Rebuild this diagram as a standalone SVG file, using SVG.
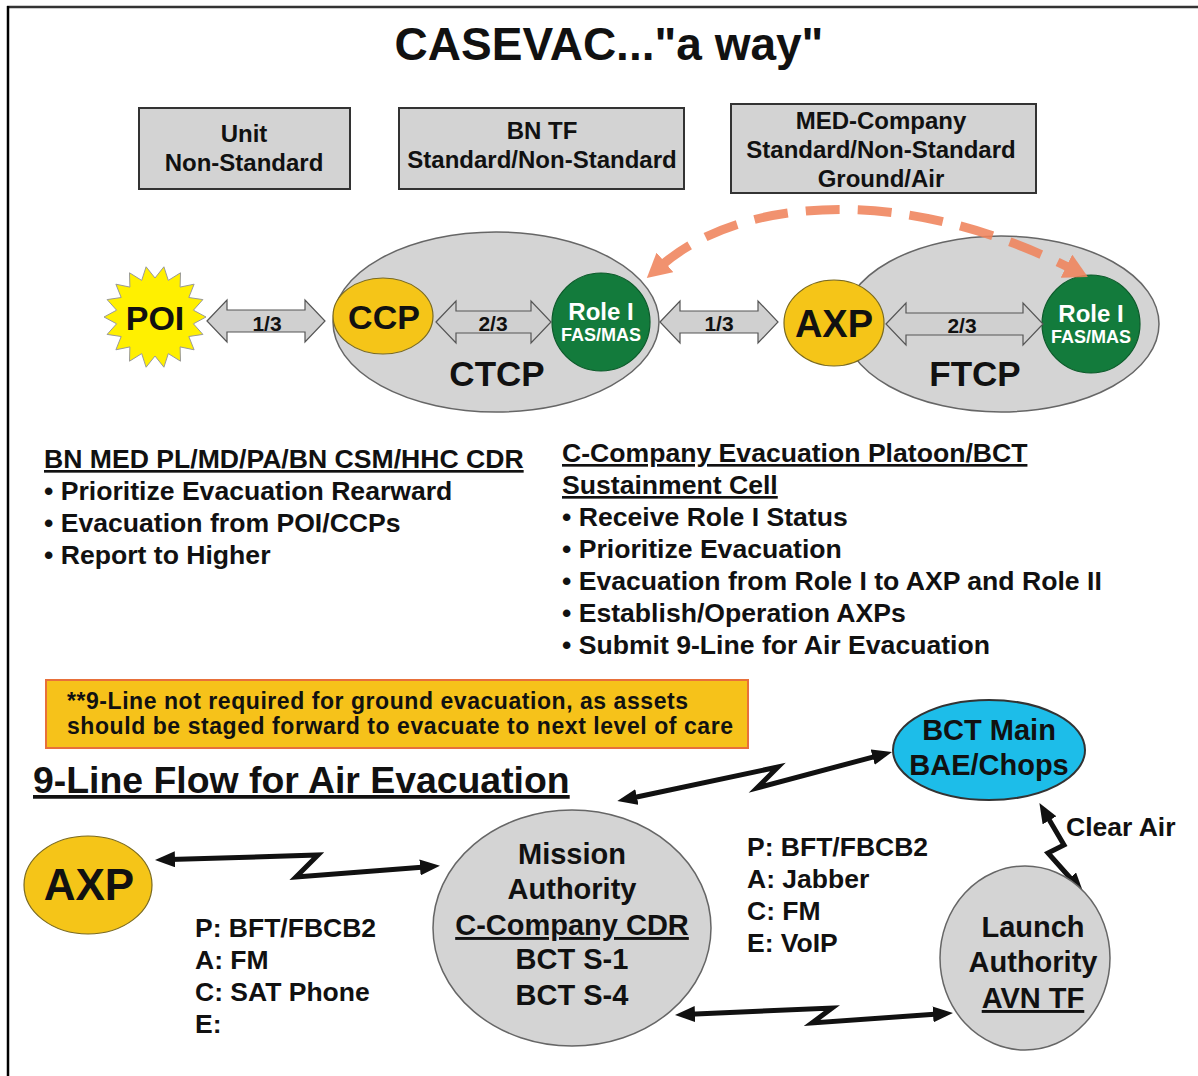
<svg xmlns="http://www.w3.org/2000/svg" width="1198" height="1076" viewBox="0 0 1198 1076">
  <style>
    text { font-family: "Liberation Sans", Arial, sans-serif; font-weight: bold; fill: #111; }
    .c { text-anchor: middle; }
    .box { fill: #d3d3d3; stroke: #333; stroke-width: 2; }
    .grey { fill: #d4d4d4; stroke: #666; stroke-width: 1.5; }
    .gold { fill: #f5c518; stroke: #7a6a20; stroke-width: 1.2; }
    .green { fill: #137b3c; stroke: #0c5a2a; stroke-width: 1.2; }
    .wt { fill: #fff; }
    .blk { fill: #d0d0d0; stroke: #555; stroke-width: 1.2; }
    .bolt { fill: none; stroke: #111; stroke-width: 5; stroke-linejoin: miter; }
    .u { text-decoration: underline; }
  </style>
  <defs>
    <marker id="bh" viewBox="0 0 20 16" markerWidth="20" markerHeight="16" refX="5" refY="8" orient="auto-start-reverse" markerUnits="userSpaceOnUse">
      <path d="M0,0 L20,8 L0,16 z" fill="#111"/>
    </marker>
    <marker id="oh" viewBox="0 0 24 26" markerWidth="24" markerHeight="26" refX="4" refY="13" orient="auto-start-reverse" markerUnits="userSpaceOnUse">
      <path d="M0,0 L24,13 L0,26 z" fill="#f0845c"/>
    </marker>
  </defs>

  <rect width="1198" height="1076" fill="#fff"/>
  <!-- frame -->
  <line x1="7" y1="7" x2="1198" y2="7" stroke="#333" stroke-width="2.5"/>
  <line x1="8" y1="6" x2="8" y2="1076" stroke="#000" stroke-width="2.5"/>

  <text class="c" x="609" y="60" font-size="46">CASEVAC..."a way"</text>

  <!-- echelon boxes -->
  <g id="unit">
    <rect class="box" x="139" y="108" width="211" height="81"/>
    <text class="c" x="244" y="142" font-size="24">Unit</text>
    <text class="c" x="244" y="171" font-size="24">Non-Standard</text>
  </g>
  <g id="bntf">
    <rect class="box" x="399" y="108" width="285" height="81"/>
    <text class="c" x="542" y="139" font-size="24">BN TF</text>
    <text class="c" x="542" y="168" font-size="24">Standard/Non-Standard</text>
  </g>
  <g id="medco">
    <rect class="box" x="731" y="104" width="305" height="89"/>
    <text class="c" x="881" y="129" font-size="24">MED-Company</text>
    <text class="c" x="881" y="158" font-size="24">Standard/Non-Standard</text>
    <text class="c" x="881" y="187" font-size="24">Ground/Air</text>
  </g>

  <!-- treatment points -->
  <g id="ctcp">
    <ellipse class="grey" cx="496" cy="322" rx="163" ry="90"/>
    <text class="c" x="497" y="386" font-size="35">CTCP</text>
  </g>
  <g id="ftcp">
    <ellipse class="grey" cx="1001" cy="324" rx="158" ry="88"/>
    <text class="c" x="975" y="386" font-size="35">FTCP</text>
  </g>

  <g id="poi">
    <polygon fill="#fff000" stroke="#999" stroke-width="1" points="206,317 193.4,323.8 202.9,334.4 188.8,336.5 194.1,349.8 180.1,346.9 180.5,361.2 168.3,353.6 163.9,367.2 155,356 146.1,367.2 141.7,353.6 129.5,361.2 129.9,346.9 115.9,349.8 121.2,336.5 107.1,334.4 116.6,323.8 104,317 116.6,310.2 107.1,299.6 121.2,297.5 115.9,284.2 129.9,287.1 129.5,272.8 141.7,280.4 146.1,266.8 155,278 163.9,266.8 168.3,280.4 180.5,272.8 180.1,287.1 194.1,284.2 188.8,297.5 202.9,299.6 193.4,310.2"/>
    <text class="c" x="155" y="330" font-size="34">POI</text>
  </g>
  <g id="ccp">
    <ellipse class="gold" cx="383" cy="316" rx="50" ry="38"/>
    <text class="c" x="384" y="329" font-size="34">CCP</text>
  </g>
  <g id="role1-ctcp">
    <circle class="green" cx="601" cy="322" r="49"/>
    <text class="c wt" x="601" y="320" font-size="24">Role I</text>
    <text class="c wt" x="601" y="341" font-size="18">FAS/MAS</text>
  </g>
  <g id="axp-ftcp">
    <ellipse class="gold" cx="834" cy="323" rx="50" ry="43"/>
    <text class="c" x="834" y="337" font-size="38">AXP</text>
  </g>
  <g id="role1-ftcp">
    <circle class="green" cx="1091" cy="324" r="49"/>
    <text class="c wt" x="1091" y="322" font-size="24">Role I</text>
    <text class="c wt" x="1091" y="343" font-size="18">FAS/MAS</text>
  </g>

  <!-- ground evacuation links and air links -->
  <g id="connectors">
    <polygon class="blk" points="207,321 227,300 227,310 305,310 305,300 325,321 305,342 305,332 227,332 227,342"/>
    <text class="c" x="267" y="331" font-size="21">1/3</text>
    <polygon class="blk" points="436,322 456,301 456,311 531,311 531,301 551,322 531,343 531,333 456,333 456,343"/>
    <text class="c" x="493" y="331" font-size="21">2/3</text>
    <polygon class="blk" points="660,322 680,301 680,311 758,311 758,301 778,322 758,343 758,333 680,333 680,343"/>
    <text class="c" x="719" y="331" font-size="21">1/3</text>
    <polygon class="blk" points="886,324 906,303 906,313 1023,313 1023,303 1043,324 1023,345 1023,335 906,335 906,345"/>
    <text class="c" x="962" y="333" font-size="21">2/3</text>

    <path d="M 662 265 C 740 198, 900 183, 1070 268" fill="none" stroke="#f0845c" stroke-width="9" stroke-dasharray="34 18" opacity="0.88" marker-start="url(#oh)" marker-end="url(#oh)"/>

    <polyline class="bolt" points="170,859.5 318,855 296,877 425,867" marker-start="url(#bh)" marker-end="url(#bh)"/>
    <polyline class="bolt" points="632,798 778,767 757,788 877.5,755.8" marker-start="url(#bh)" marker-end="url(#bh)"/>
    <polyline class="bolt" points="1047,816 1064,845 1048,853 1073.4,881.5" marker-start="url(#bh)" marker-end="url(#bh)"/>
    <polyline class="bolt" points="690,1014.3 832,1008 812,1023 938,1014" marker-start="url(#bh)" marker-end="url(#bh)"/>
  </g>

  <!-- responsibilities -->
  <g font-size="26.6">
    <text class="u" x="44" y="468">BN MED PL/MD/PA/BN CSM/HHC CDR</text>
    <text x="44" y="500">• Prioritize Evacuation Rearward</text>
    <text x="44" y="532">• Evacuation from POI/CCPs</text>
    <text x="44" y="564">• Report to Higher</text>

    <text class="u" x="562" y="462">C-Company Evacuation Platoon/BCT</text>
    <text class="u" x="562" y="494">Sustainment Cell</text>
    <text x="562" y="526">• Receive Role I Status</text>
    <text x="562" y="558">• Prioritize Evacuation</text>
    <text x="562" y="590">• Evacuation from Role I to AXP and Role II</text>
    <text x="562" y="622">• Establish/Operation AXPs</text>
    <text x="562" y="654">• Submit 9-Line for Air Evacuation</text>
  </g>

  <g id="note">
    <rect x="46" y="680" width="702" height="68" fill="#f6c21a" stroke="#e8703a" stroke-width="2"/>
    <text x="67" y="709" font-size="23" textLength="621" lengthAdjust="spacing">**9-Line not required for ground evacuation, as assets</text>
    <text x="67" y="734" font-size="23" textLength="666" lengthAdjust="spacing">should be staged forward to evacuate to next level of care</text>
  </g>

  <text class="u" x="33" y="793" font-size="37.4">9-Line Flow for Air Evacuation</text>

  <!-- air evacuation request chain -->
  <g id="axp-air">
    <ellipse class="gold" cx="88" cy="885" rx="64" ry="49"/>
    <text class="c" x="89" y="900" font-size="44">AXP</text>
  </g>
  <g id="mission-authority">
    <ellipse class="grey" cx="572" cy="928" rx="139" ry="118" stroke="#444" stroke-width="2"/>
    <text class="c" x="572" y="864" font-size="29">Mission</text>
    <text class="c" x="572" y="899" font-size="29">Authority</text>
    <text class="c u" x="572" y="935" font-size="29">C-Company CDR</text>
    <text class="c" x="572" y="969" font-size="29">BCT S-1</text>
    <text class="c" x="572" y="1005" font-size="29">BCT S-4</text>
  </g>
  <g id="bct-main">
    <ellipse cx="989" cy="750" rx="96" ry="50" fill="#1dbde9" stroke="#333" stroke-width="2"/>
    <text class="c" x="989" y="740" font-size="29">BCT Main</text>
    <text class="c" x="989" y="775" font-size="29">BAE/Chops</text>
  </g>
  <g id="launch-authority">
    <ellipse class="grey" cx="1025" cy="958" rx="85" ry="92" stroke="#444" stroke-width="2"/>
    <text class="c" x="1033" y="937" font-size="29">Launch</text>
    <text class="c" x="1033" y="972" font-size="29">Authority</text>
    <text class="c u" x="1033" y="1008" font-size="29">AVN TF</text>
  </g>

  <g font-size="26.5">
    <text x="195" y="937">P: BFT/FBCB2</text>
    <text x="195" y="969">A: FM</text>
    <text x="195" y="1001">C: SAT Phone</text>
    <text x="195" y="1033">E:</text>

    <text x="747" y="856">P: BFT/FBCB2</text>
    <text x="747" y="888">A: Jabber</text>
    <text x="747" y="920">C: FM</text>
    <text x="747" y="952">E: VoIP</text>

    <text x="1066" y="836">Clear Air</text>
  </g>
</svg>
